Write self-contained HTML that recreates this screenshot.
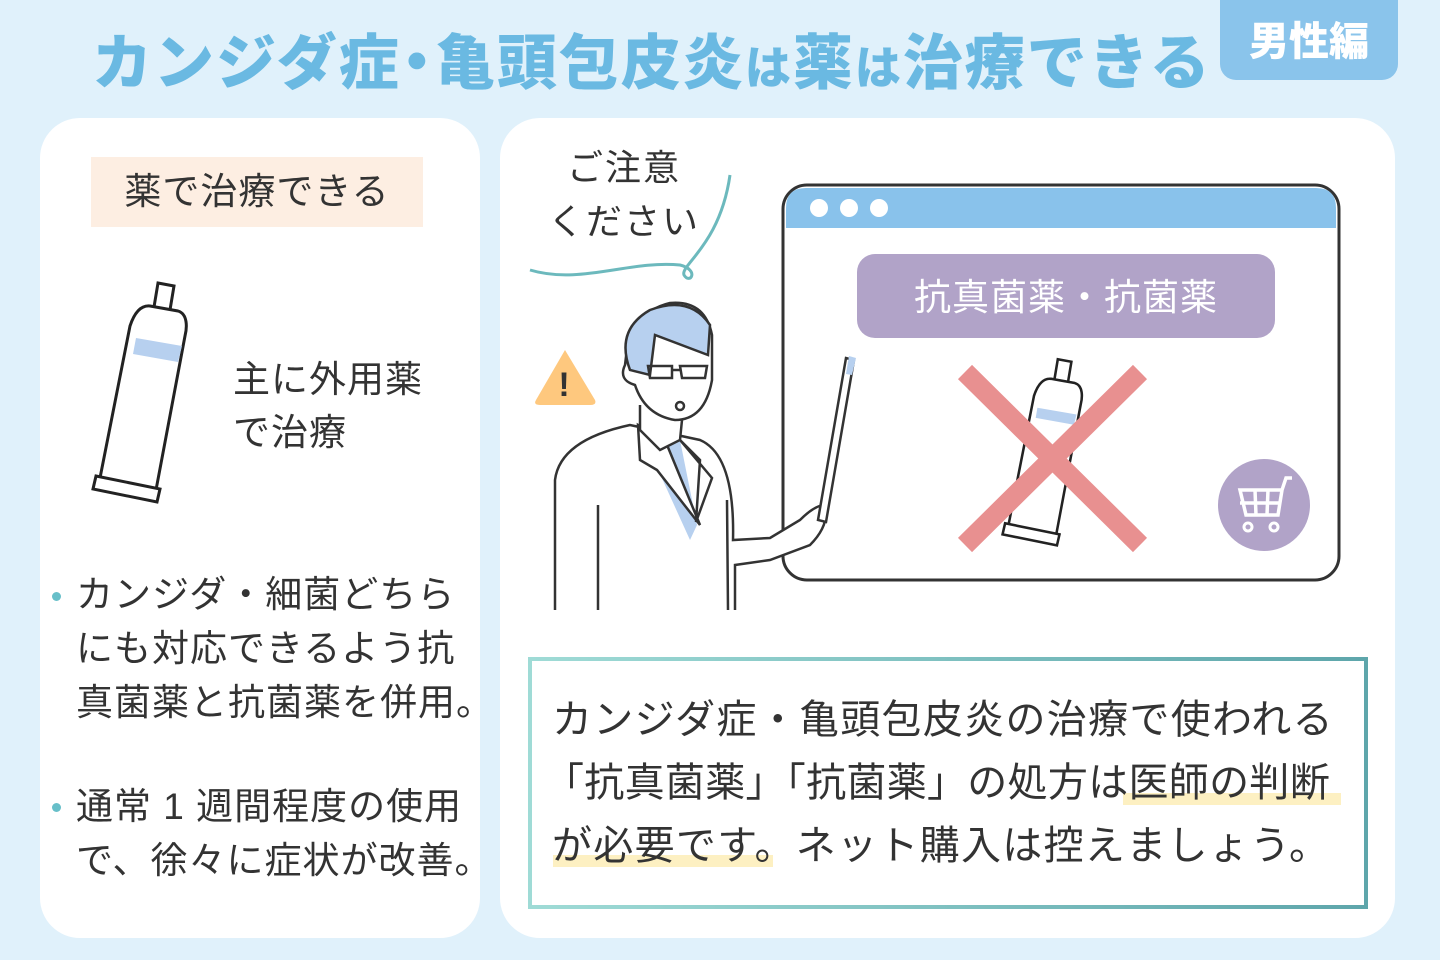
<!DOCTYPE html>
<html><head><meta charset="utf-8"><style>
body{margin:0;width:1440px;height:960px;background:#e0f1fb;position:relative;overflow:hidden;font-family:"Liberation Sans","Noto Sans CJK JP",sans-serif;color:#333}
.a{position:absolute}
.title{left:92px;top:24px;font-size:60px;font-weight:900;color:#6ab9e2;letter-spacing:2px;white-space:nowrap;line-height:80px}
.title .s{font-size:46px}
.title .d{display:inline-block;margin:0 -14px}
.badge{left:1220px;top:-20px;width:178px;height:100px;background:#8ac4eb;border-radius:16px;color:#fff;font-weight:900;font-size:40px;text-align:center;line-height:124px}
.panel{background:#fff;border-radius:40px}
.txt{font-size:37px;line-height:54px;letter-spacing:1px;white-space:nowrap}
</style></head><body>
<div class="a title">カンジダ症<span class="d">・</span>亀頭包皮炎<span class="s">は</span>薬<span class="s">は</span>治療できる</div>
<div class="a badge">男性編</div>
<div class="a panel" style="left:40px;top:118px;width:440px;height:820px"></div>
<div class="a panel" style="left:500px;top:118px;width:895px;height:820px"></div>
<div class="a" style="left:91px;top:157px;width:332px;height:70px;background:#fdeee2;font-size:37px;line-height:70px;text-align:center;letter-spacing:1px">薬で治療できる</div>
<svg class="a" style="left:90px;top:278px" width="110" height="230" viewBox="0 0 110 230">
<g stroke="#222" stroke-width="3" fill="#fff">
<path d="M68 5 L84 8 L80 32 L64 29 Z"/>
<path d="M60 28 L88 33 C98 36 97 50 95 58 L66 212 L10 200 L40 48 C44 36 50 27 60 28 Z"/>
<path d="M6 198 L70 211 L67 224 L3 211 Z"/>
</g>
<path d="M46 60 L92 68 L88 84 L43 76 Z" fill="#b7d0ef"/>
</svg>
<div class="a txt" style="left:233px;top:353px;line-height:53px">主に外用薬<br>で治療</div>
<div class="a" style="left:52px;top:592px;width:9px;height:9px;border-radius:50%;background:#67bfc9"></div>
<div class="a txt" style="left:76px;top:568px">カンジダ・細菌どちら<br>にも対応できるよう抗<br>真菌薬と抗菌薬を併用。</div>
<div class="a" style="left:52px;top:803px;width:9px;height:9px;border-radius:50%;background:#67bfc9"></div>
<div class="a txt" style="left:76px;top:780px">通常 1 週間程度の使用<br>で、徐々に症状が改善。</div>
<div class="a" style="left:548px;top:141px;font-size:36px;line-height:54px;text-align:center;letter-spacing:2px">ご注意<br>ください</div>
<svg class="a" style="left:520px;top:140px" width="880" height="480" viewBox="520 140 880 480">
<path d="M530 270 C580 285 630 260 680 265 C700 270 690 285 684 275 C680 265 720 245 730 175" stroke="#6cb9bd" stroke-width="3" fill="none"/>
<path d="M565 350 L595 400 Q597 405 590 405 L540 405 Q533 405 536 400 Z" fill="#fec87e"/>
<text x="564" y="396" font-size="34" font-weight="bold" text-anchor="middle" fill="#333">!</text>
<rect x="783" y="185" width="556" height="395" rx="24" fill="#fff" stroke="#333" stroke-width="3"/>
<path d="M786 228 L786 208 Q786 188 806 188 L1316 188 Q1336 188 1336 208 L1336 228 Z" fill="#89c2eb"/>
<circle cx="819" cy="208" r="9" fill="#fff"/><circle cx="849" cy="208" r="9" fill="#fff"/><circle cx="879" cy="208" r="9" fill="#fff"/>
<rect x="857" y="254" width="418" height="84" rx="18" fill="#b1a3c8"/>
<text x="1066" y="310" font-size="37" fill="#fff" text-anchor="middle" letter-spacing="1">抗真菌薬・抗菌薬</text>
<g stroke="#222" stroke-width="3" fill="#fff" transform="translate(1000,355) scale(0.85)">
<path d="M68 5 L84 8 L80 32 L64 29 Z"/>
<path d="M60 28 L88 33 C98 36 97 50 95 58 L66 212 L10 200 L40 48 C44 36 50 27 60 28 Z"/>
<path d="M6 198 L70 211 L67 224 L3 211 Z"/>
<path d="M44 62 L90 70 L87 82 L42 74 Z" fill="#b7d0ef" stroke="none"/>
</g>
<path d="M965 372 L1140 545 M1140 372 L965 545" stroke="#e89090" stroke-width="20"/>
<circle cx="1264" cy="505" r="46" fill="#b1a3c8"/>
<path d="M1240 490 L1282 490 L1278 515 L1246 515 Z M1282 490 L1286 478 L1292 478 M1240 503 L1280 503 M1255 490 L1256 515 M1268 490 L1267 515" stroke="#fff" stroke-width="3.5" fill="none"/>
<circle cx="1248" cy="527" r="4" fill="none" stroke="#fff" stroke-width="3"/><circle cx="1274" cy="527" r="4" fill="none" stroke="#fff" stroke-width="3"/>
<g stroke="#333" stroke-width="2.5" fill="none">
<path d="M555 610 L555 480 Q560 440 630 425 L700 440 Q735 455 733 540 L770 538 L800 520 Q815 505 825 505 Q830 525 810 545 L770 560 L735 565 L735 610" fill="#fff"/>
<path d="M640 430 L660 440 L680 440 L697 525 L690 540 Z" fill="#b7d0ef" stroke="none"/>
<path d="M638 425 L640 460 L657 470 L700 525 L665 440 Z" fill="#fff"/>
<path d="M680 440 L700 460 L696 522 L712 478 Z" fill="#fff"/>
<path d="M598 505 L598 610 M727 500 L728 610"/>
<path d="M640 405 L640 430 L660 450 L680 440 L682 420" fill="#fff"/>
<path d="M628 340 Q640 310 670 303 Q705 300 712 335 L712 380 Q705 420 675 420 Q645 415 635 385 Q618 380 625 365 Z" fill="#fff"/>
<path d="M630 370 Q615 330 650 310 Q690 295 710 325 L708 355 L655 335 L650 375 Z" fill="#b7d0ef"/>
<path d="M648 366 L672 366 L672 378 L650 378 Z M680 366 L707 366 L705 378 L682 378 Z M672 370 L680 370"/>
<circle cx="680" cy="406" r="4"/>
<path d="M846 358 L818 520 L826 522 L854 360 Z" fill="#fff"/>
</g>
<path d="M849 356 L856 358 L852 375 L846 374 Z" fill="#b7d0ef"/>
</svg>
<div class="a" style="left:528px;top:657px;width:832px;height:244px;border:4px solid #7cc5c7;border-image:linear-gradient(90deg,#9fdbd6,#5ea6ab) 1;background:#fff"></div>
<div class="a" style="left:1123px;top:793px;width:218px;height:12px;background:#fdf0c2"></div>
<div class="a" style="left:553px;top:855px;width:220px;height:12px;background:#fdf0c2"></div>
<div class="a" style="left:552px;top:689px;font-size:40px;line-height:63px;white-space:nowrap;letter-spacing:1.3px">カンジダ症・亀頭包皮炎の治療で使われる<br><span style="margin-left:-8px;letter-spacing:0.3px">「抗真菌薬」「抗菌薬」の処方は医師の判断</span><br>が必要です。ネット購入は控えましょう。</div>
</body></html>
